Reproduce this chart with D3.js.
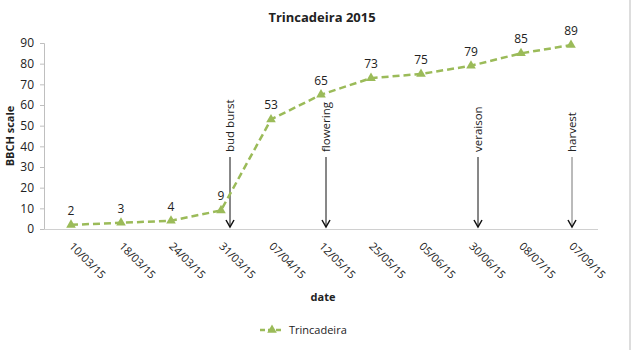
<!DOCTYPE html>
<html>
<head>
<meta charset="utf-8">
<script src="https://cdn.jsdelivr.net/npm/d3@7"></script>
<style>
  body { margin: 0; background: #fff; }
  text { font-family: "Open Sans", "Liberation Sans", sans-serif; fill: #222; }
</style>
</head>
<body>
<div class="canvas"></div>
<script>
// Data
const dates = ['10/03/15', '18/03/15', '24/03/15', '31/03/15', '07/04/15', '12/05/15',
  '25/05/15', '05/06/15', '30/06/15', '08/07/15', '07/09/15']
const bbch = [2, 3, 4, 9, 53, 65, 73, 75, 79, 85, 89]
const stages = ['bud burst', 'flowering', 'veraison', 'harvest']
const stageDates = ['31/03/15', '12/05/15', '30/06/15', '07/09/15']
const yTicks = [0, 10, 20, 30, 40, 50, 60, 70, 80, 90]

// arrows were drawn a little right of their category in the original
const stageNudge = [9, 5, 7, 1]

const svg = d3.select('.canvas')
  .append('svg')
  .attr('width', 636)
  .attr('height', 350)

const margin = { top: 43, right: 40, bottom: 121, left: 46 }
const graphWidth = 636 - margin.left - margin.right
const graphHeight = 350 - margin.top - margin.bottom

const graph = svg.append('g')
  .attr('transform', `translate(${margin.left}, ${margin.top})`)

// Scales
const x = d3.scalePoint()
  .domain(dates)
  .range([0, graphWidth])
  .padding(0.5)

const y = d3.scaleLinear()
  .domain([0, 90])
  .range([graphHeight, 0])

// right frame line
svg.append('line')
  .attr('x1', 630).attr('x2', 630)
  .attr('y1', 0).attr('y2', 350)
  .attr('stroke', '#bbb')

// Axes
const yAxisGroup = graph.append('g').attr('transform', 'translate(-2, 0)')
  .call(d3.axisLeft(y).tickValues(yTicks).tickSize(4).tickPadding(6))
yAxisGroup.selectAll('path, line').attr('stroke', '#bfbfbf')
yAxisGroup.selectAll('text').attr('font-size', 12).attr('fill', '#222')
  .style('font-family', '"Open Sans", sans-serif')

const xAxisGroup = graph.append('g').attr('transform', `translate(0, ${graphHeight})`)
  .call(d3.axisBottom(x).tickSize(0).tickPadding(0))
xAxisGroup.select('.domain')
  .attr('d', `M-2,0.5H${graphWidth + 2}`)
  .attr('stroke', '#d0d0d0')
xAxisGroup.selectAll('text')
  .attr('font-size', 11)
  .attr('fill', '#333')
  .style('font-family', '"Open Sans", sans-serif')
  .attr('text-anchor', 'start')
  .attr('dy', 0)
  .attr('transform', 'translate(-3, 18) rotate(45)')

// Titles
svg.append('text')
  .attr('x', 322).attr('y', 22)
  .attr('text-anchor', 'middle')
  .attr('font-size', 13).attr('font-weight', 'bold')
  .text('Trincadeira 2015')

svg.append('text')
  .attr('transform', 'translate(14, 136) rotate(-90)')
  .attr('text-anchor', 'middle')
  .attr('font-size', 11).attr('font-weight', 'bold')
  .text('BBCH scale')

svg.append('text')
  .attr('x', 323).attr('y', 301)
  .attr('text-anchor', 'middle')
  .attr('font-size', 11).attr('font-weight', 'bold')
  .text('date')

// Stage arrows
const stageG = graph.selectAll('.stage')
  .data(stages)
  .enter()
  .append('g')
  .attr('transform', (d, i) => `translate(${x(stageDates[i]) + stageNudge[i]}, 0)`)

stageG.append('line')
  .attr('y1', 114).attr('y2', graphHeight - 2)
  .attr('stroke', (d, i) => i === 3 ? '#777' : '#111')
  .attr('stroke-width', 1)

stageG.append('path')
  .attr('d', `M-4,${graphHeight - 9}L0,${graphHeight - 2}L4,${graphHeight - 9}`)
  .attr('fill', 'none')
  .attr('stroke', '#111')
  .attr('stroke-width', 1.5)

stageG.append('text')
  .attr('transform', 'translate(4, 109) rotate(-90)')
  .attr('text-anchor', 'start')
  .attr('font-size', 11.5)
  .text(d => d)

// Series line
const line = d3.line()
  .x((d, i) => x(dates[i]))
  .y(d => y(d))

graph.append('path')
  .datum(bbch)
  .attr('d', line)
  .attr('fill', 'none')
  .attr('stroke', '#9bbb59')
  .attr('stroke-width', 2.5)
  .attr('stroke-dasharray', '7,4')

const tri = d3.symbol().type(d3.symbolTriangle).size(40)

graph.selectAll('.marker')
  .data(bbch)
  .enter()
  .append('path')
  .attr('d', tri)
  .attr('transform', (d, i) => `translate(${x(dates[i])}, ${y(d)})`)
  .attr('fill', '#9bbb59')

graph.selectAll('.label')
  .data(bbch)
  .enter()
  .append('text')
  .attr('x', (d, i) => x(dates[i]))
  .attr('y', d => y(d) - 10)
  .attr('text-anchor', 'middle')
  .attr('font-size', 12)
  .text(d => d)

// Legend
const legend = svg.append('g').attr('transform', 'translate(260, 330)')
legend.append('line')
  .attr('x1', 0).attr('x2', 24)
  .attr('stroke', '#9bbb59')
  .attr('stroke-width', 2.5)
  .attr('stroke-dasharray', '5,3')
legend.append('path')
  .attr('d', tri)
  .attr('transform', 'translate(12, 0)')
  .attr('fill', '#9bbb59')
legend.append('text')
  .attr('x', 29).attr('y', 4)
  .attr('font-size', 11)
  .text('Trincadeira')
</script>
</body>
</html>
